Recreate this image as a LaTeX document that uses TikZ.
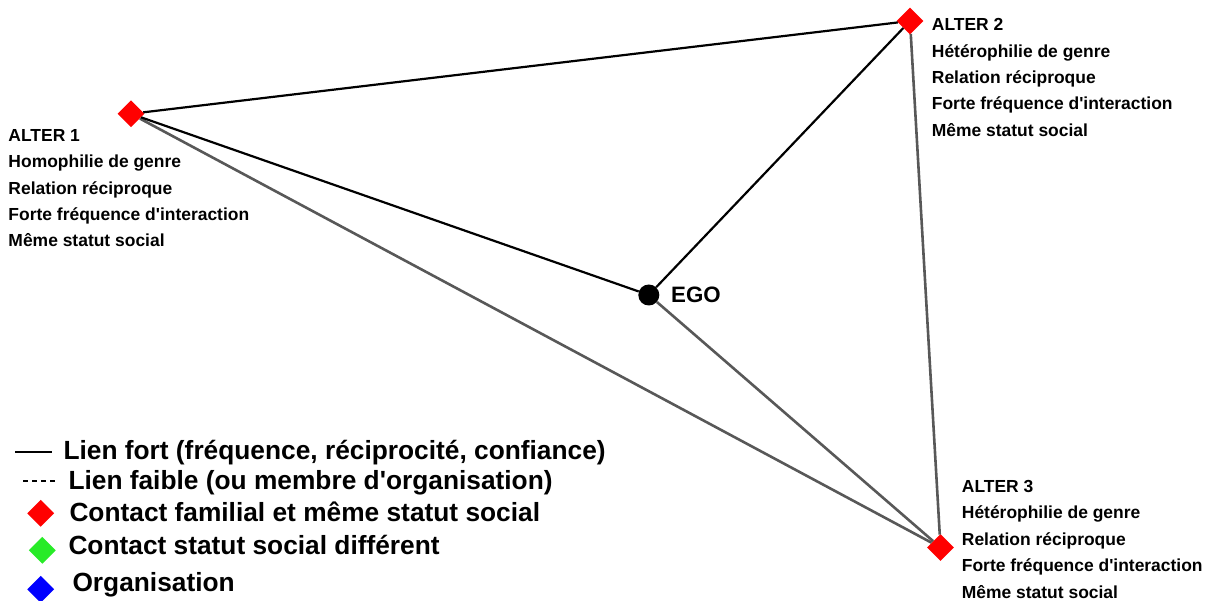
\documentclass[tikz,border=0pt]{standalone}
\usepackage{fontspec}
\setmainfont{Liberation Sans}
\usetikzlibrary{shapes.geometric, positioning}
\definecolor{rougeAlter}{RGB}{255,0,0}
\definecolor{vertStatut}{RGB}{40,235,40}
\definecolor{bleuOrga}{RGB}{0,0,255}
\definecolor{grisLien}{RGB}{88,88,88}

\begin{document}
\begin{tikzpicture}[
  x=1pt, y=-1pt,
  losange/.style={diamond, minimum width=27pt, minimum height=27pt, inner sep=0pt, fill=#1},
  losange/.default=rougeAlter,
  pointEgo/.style={circle, fill=black, minimum size=21pt, inner sep=0pt},
  etiquette/.style={anchor=north west, inner sep=0pt, align=left,
    font=\fontsize{17.45}{26.4}\selectfont\bfseries},
  legende/.style={anchor=base west, inner sep=0pt, font=\fontsize{26.3}{30}\selectfont\bfseries},
  lienFort/.style={black, line width=2.2pt},
  lienGris/.style={grisLien, line width=2.6pt},
  traitFort/.style={black, line width=2pt},
  traitFaible/.style={black, line width=1.6pt, dash pattern=on 5pt off 4pt}
]
  \useasboundingbox (0,0) rectangle (1213,601);

  % le reseau
  \node[pointEgo] (ego) at (648.8,295) {};
  \node[losange] (alt1) at (131,113.8) {};
  \node[losange] (alt2) at (910,21) {};
  \node[losange] (alt3) at (940.5,547.5) {};
  \node[font=\fontsize{22.3}{26}\selectfont\bfseries, inner sep=0pt, right=11.5pt of ego] (egoLbl) {EGO};

  \draw[lienGris] (alt1) -- (alt3);
  \draw[lienGris] (ego) -- (alt3);
  \draw[lienGris] (alt2) -- (alt3);
  \draw[lienFort] (alt1) -- (alt2);
  \draw[lienFort] (alt1) -- (ego);
  \draw[lienFort] (alt2) -- (ego);

  \node[etiquette] (lbl1) at (8.3,129.1) {ALTER 1\\Homophilie de genre\\Relation réciproque\\Forte fréquence d\textquotesingle interaction\\Même statut social};
  \node[etiquette] (lbl2) at (931.7,18.4) {ALTER 2\\Hétérophilie de genre\\Relation réciproque\\Forte fréquence d\textquotesingle interaction\\Même statut social};
  \node[etiquette] (lbl3) at (961.7,480.1) {ALTER 3\\Hétérophilie de genre\\Relation réciproque\\Forte fréquence d\textquotesingle interaction\\Même statut social};

  % legende
  \coordinate (fortA) at (15,451.7);
  \coordinate (fortB) at (51.7,451.7);
  \coordinate (faibleA) at (23,481);
  \coordinate (faibleB) at (58,481);
  \draw[traitFort] (fortA) -- (fortB);
  \draw[traitFaible] (faibleA) -- (faibleB);
  \node[losange] (legRouge) at (40.7,513.3) {};
  \node[losange=vertStatut] (legVert) at (42.3,550.3) {};
  \node[losange=bleuOrga] (legBleu) at (40.7,589.3) {};

  \node[legende] (txtFort) at (63.3,460) {Lien fort (fréquence, réciprocité, confiance)};
  \node[legende] (txtFaible) at (68.3,489) {Lien faible (ou membre d\textquotesingle organisation)};
  \node[legende] (txtRouge) at (69.3,521) {Contact familial et même statut social};
  \node[legende] (txtVert) at (68.3,554) {Contact statut social différent};
  \node[legende] (txtBleu) at (72.3,591) {Organisation};
\end{tikzpicture}
\end{document}
